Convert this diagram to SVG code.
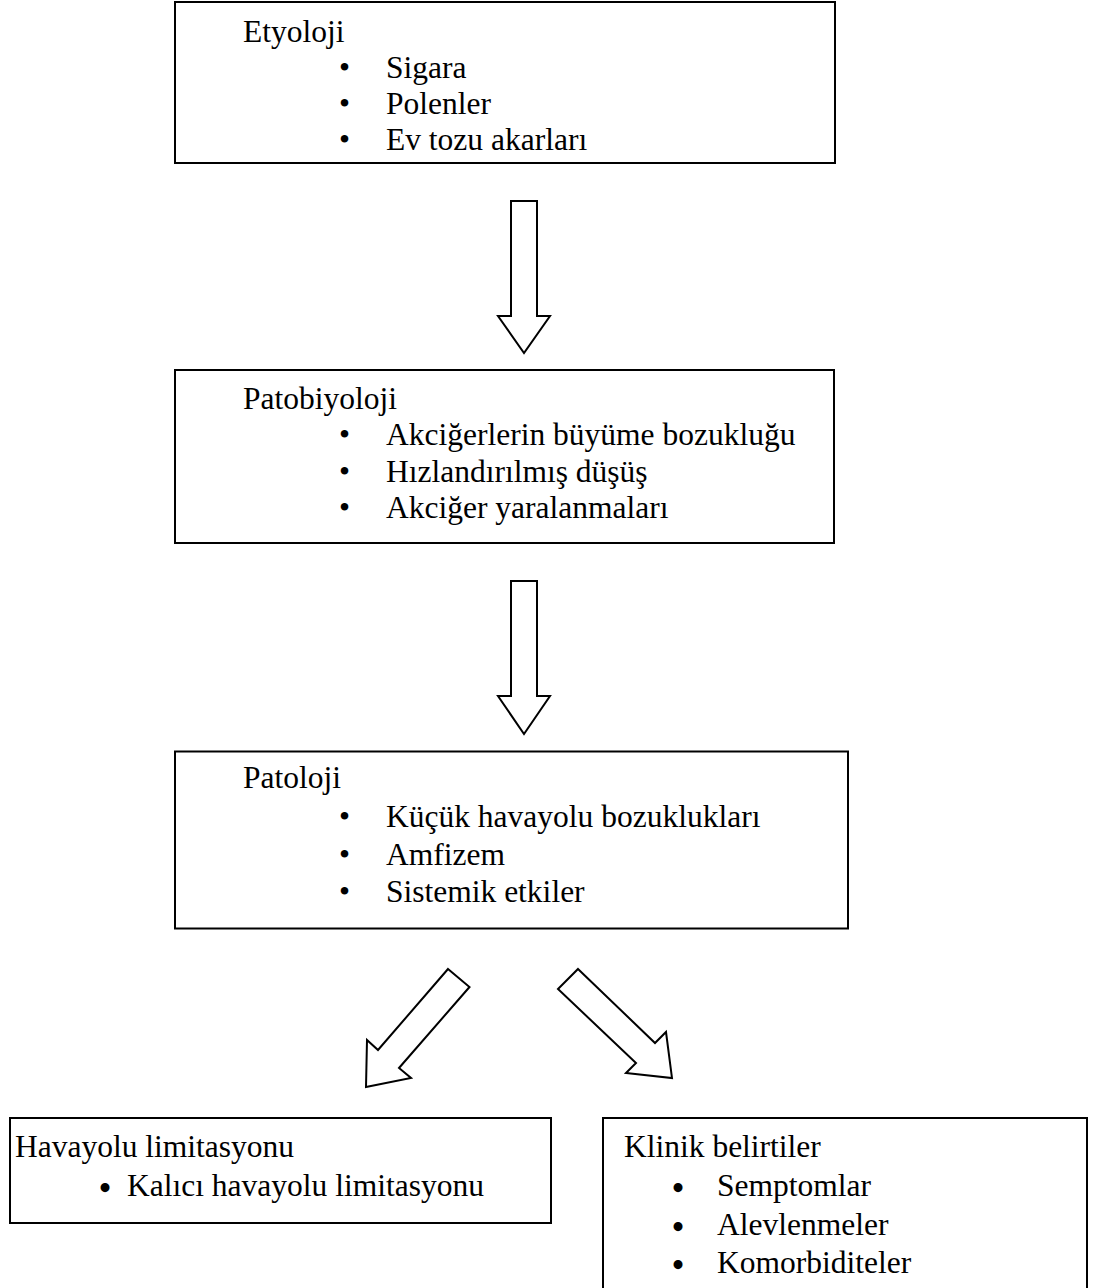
<svg xmlns="http://www.w3.org/2000/svg" width="1102" height="1288" viewBox="0 0 1102 1288">
<style>
.box{fill:#fff;stroke:#000;stroke-width:2}
.arr{fill:#fff;stroke:#000;stroke-width:2;stroke-linejoin:miter}
text{font-family:"Liberation Serif","Times New Roman",serif;font-size:31.5px;fill:#000}
.b{text-anchor:middle}
.bb{text-anchor:middle;font-size:33px;font-weight:bold}
</style>
<rect width="1102" height="1288" fill="#fff"/>
<g id="connectors">
<polygon class="arr" points="511,201 537,201 537,316 550,316 524,353 498,316 511,316"/>
<polygon class="arr" points="511,581 537,581 537,696 550,696 524,734 498,696 511,696"/>
<polygon class="arr" points="448,969 469.5,987 399,1068 411,1078 366,1087 367,1040 378,1050"/>
<polygon class="arr" points="578,969 655,1043 666,1032 672,1078 626,1073 636,1063 558,989"/>
</g>
<g id="etyoloji">
<rect class="box" x="175" y="2" width="660" height="161"/>
<text x="243" y="42">Etyoloji</text>
<text class="b" x="344.5" y="78">•</text><text x="386" y="78">Sigara</text>
<text class="b" x="344.5" y="114">•</text><text x="386" y="114">Polenler</text>
<text class="b" x="344.5" y="150">•</text><text x="386" y="150">Ev tozu akarları</text>
</g>
<g id="patobiyoloji">
<rect class="box" x="175" y="370" width="659" height="173"/>
<text x="243" y="409">Patobiyoloji</text>
<text class="b" x="344.5" y="445">•</text><text x="386" y="445">Akciğerlerin büyüme bozukluğu</text>
<text class="b" x="344.5" y="481.5">•</text><text x="386" y="481.5">Hızlandırılmış düşüş</text>
<text class="b" x="344.5" y="518">•</text><text x="386" y="518">Akciğer yaralanmaları</text>
</g>
<g id="patoloji">
<rect class="box" x="175" y="751.5" width="673" height="177"/>
<text x="243" y="788">Patoloji</text>
<text class="b" x="344.5" y="827">•</text><text x="386" y="827">Küçük havayolu bozuklukları</text>
<text class="b" x="344.5" y="865">•</text><text x="386" y="865">Amfizem</text>
<text class="b" x="344.5" y="902">•</text><text x="386" y="902">Sistemik etkiler</text>
</g>
<g id="havayolu">
<rect class="box" x="10" y="1118" width="541" height="105"/>
<text x="15" y="1157">Havayolu limitasyonu</text>
<text class="bb" x="105" y="1199">•</text><text x="127" y="1196">Kalıcı havayolu limitasyonu</text>
</g>
<g id="klinik">
<rect class="box" x="603" y="1118" width="484" height="200"/>
<text x="624" y="1157">Klinik belirtiler</text>
<text class="bb" x="678" y="1199">•</text><text x="717" y="1196">Semptomlar</text>
<text class="bb" x="678" y="1238">•</text><text x="717" y="1235">Alevlenmeler</text>
<text class="bb" x="678" y="1276">•</text><text x="717" y="1273">Komorbiditeler</text>
</g>
</svg>
